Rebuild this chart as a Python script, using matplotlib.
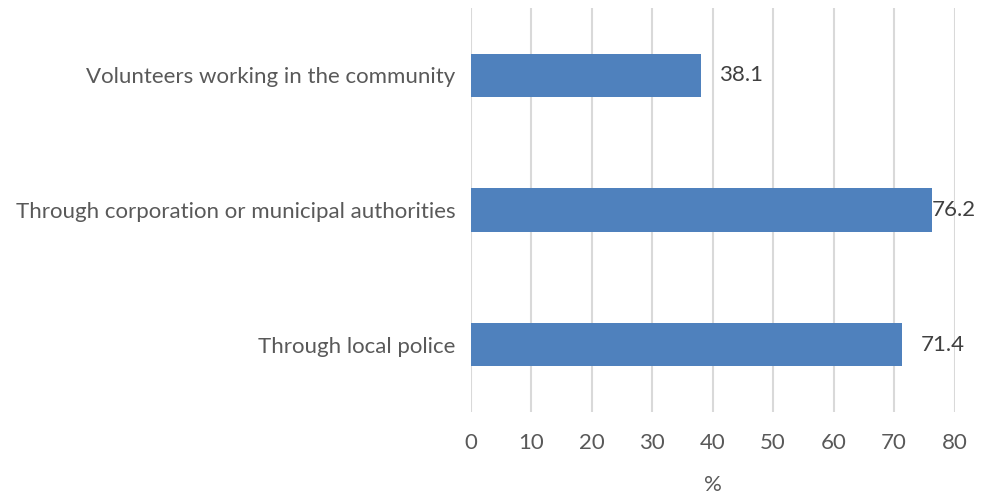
import matplotlib
matplotlib.use("Agg")
import matplotlib.pyplot as plt

categories = ["Through local police", "Through corporation or municipal authorities",
              "Volunteers working in the community"]
values = [71.4, 76.2, 38.1]
xticks = [0, 10, 20, 30, 40, 50, 60, 70, 80]

plt.rcParams['font.family'] = ['Lato', 'DejaVu Sans']
text_color = '#595959'
bar_color = '#4F81BD'
grid_color = '#D9D9D9'

fig = plt.figure(figsize=(9.86, 4.98), dpi=100)
ax = fig.add_axes([470.5/986, 1-412/498, (954.5-470.5)/986, (412-8)/498])

ypos = list(range(len(categories)))
ax.barh(ypos, values, height=0.32, color=bar_color, zorder=3)
ax.set_xlim(0, 80)
ax.set_ylim(-0.5, 2.5)
ax.set_xticks(xticks)
ax.set_xticklabels([str(t) for t in xticks])
ax.set_yticks(ypos)
ax.set_yticklabels(categories)
ax.tick_params(axis='both', length=0, labelsize=16, labelcolor=text_color)
ax.tick_params(axis='x', pad=15)
ax.tick_params(axis='y', pad=11)
ax.xaxis.grid(True, color=grid_color, linewidth=1.5, zorder=0)
ax.set_axisbelow(True)
for s in ax.spines.values():
    s.set_visible(False)
ax.set_xlabel('%', fontsize=16, color=text_color, labelpad=16)

for y, v in zip(ypos, values):
    off = 0 if v > 75 else 18
    ax.annotate(f"{v}", xy=(v, y), xytext=(off, 0), textcoords='offset pixels',
                va='center', ha='left', fontsize=16, color='#404040', zorder=4)

fig.savefig('out.png', dpi=100)
